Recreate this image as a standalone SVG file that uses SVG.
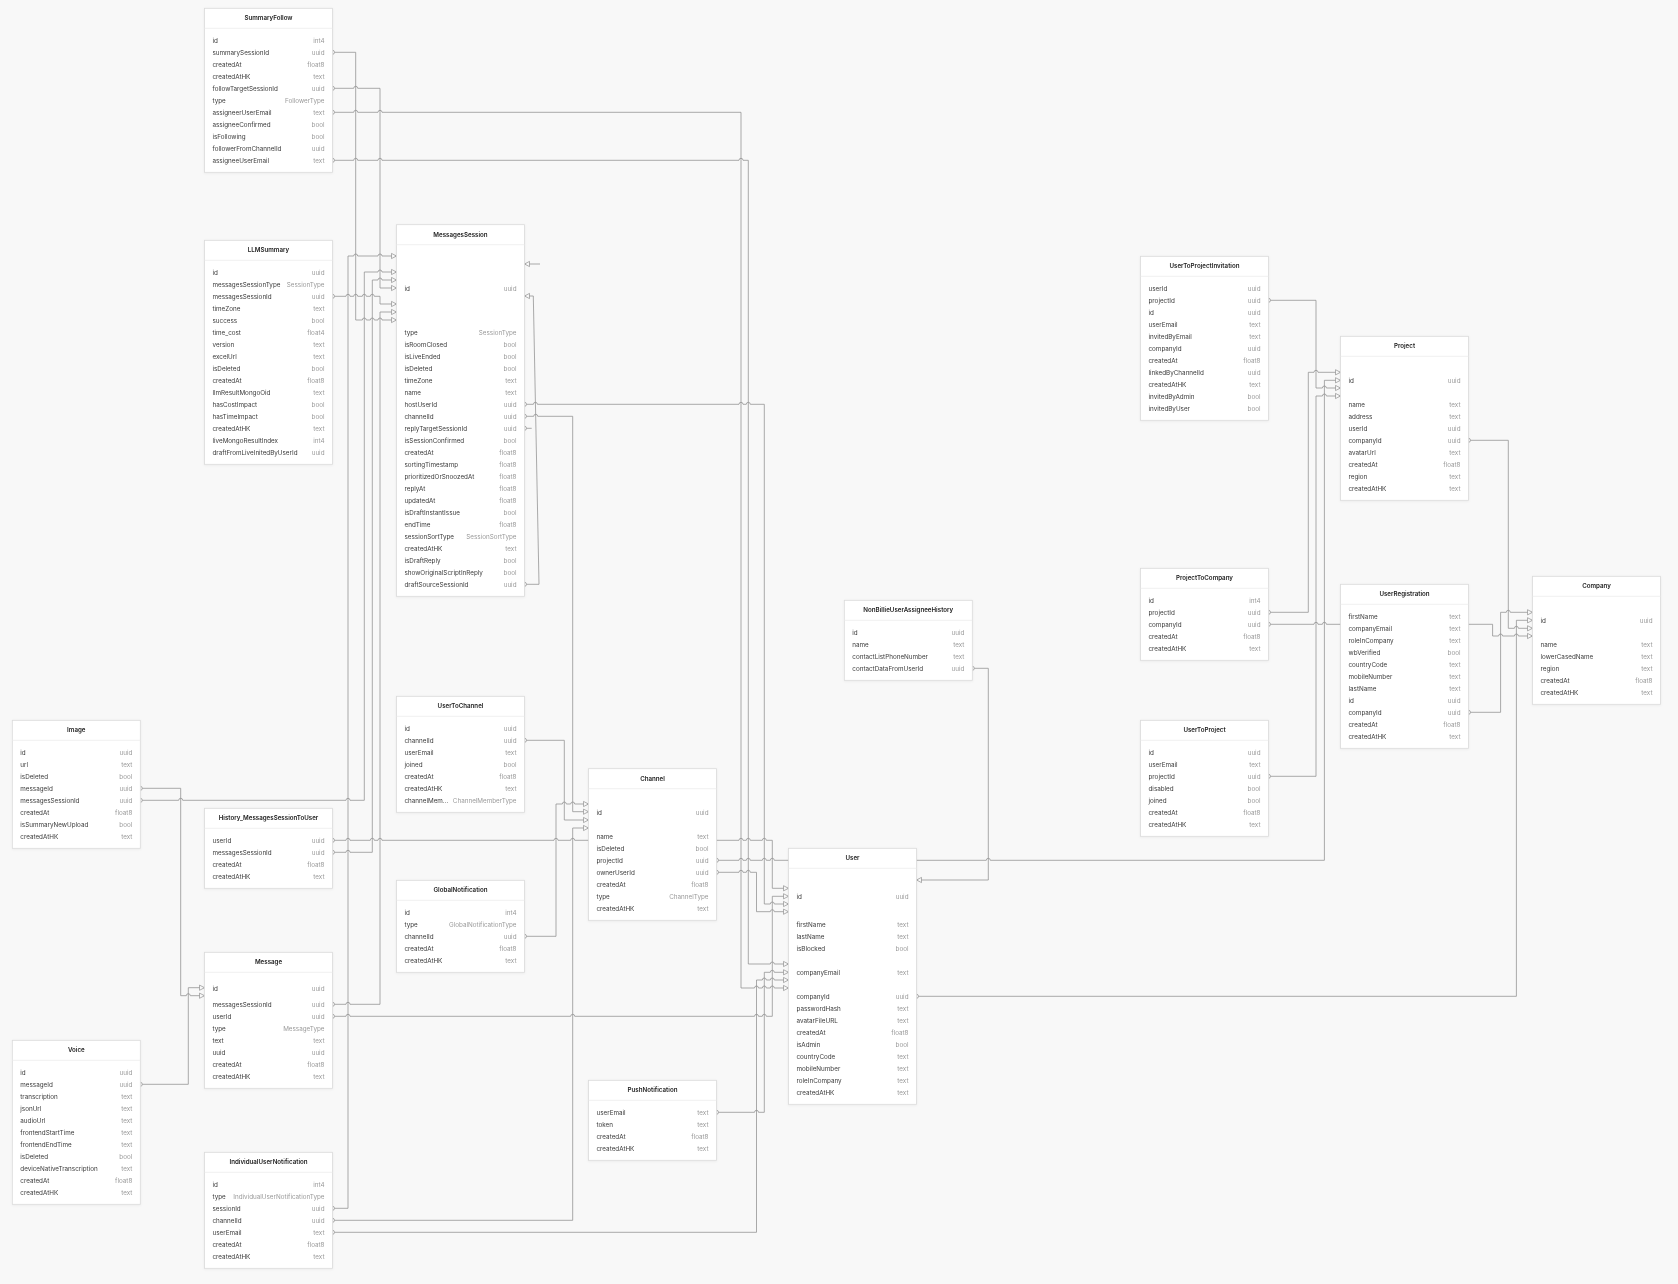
<svg xmlns="http://www.w3.org/2000/svg" width="1678" height="1284" viewBox="0 0 1678 1284">
<style>
.bg{fill:#f8f8f8}
.box{fill:#fff;stroke:#dadada;stroke-width:.8}
.sep{stroke:#ececec;stroke-width:.8}
text{font-family:Inter,"Liberation Sans",Arial,sans-serif;font-size:6.3px}
.t{font-weight:600;font-size:6.2px;fill:#222;text-anchor:middle}
.l{fill:#3a3a3a}
.y{fill:#9a9a9a;text-anchor:end}
.c{fill:none;stroke:#8f8f8f;stroke-width:.75}
.s{marker-start:url(#src)}
.a{marker-end:url(#arr)}
</style>
<defs>
<marker id="arr" viewBox="-6 -4 7 8" refX="0" refY="0" markerWidth="7" markerHeight="8" markerUnits="userSpaceOnUse" orient="auto"><path d="M-5,-2.6 L0,0 L-5,2.6 Z" fill="#f8f8f8" stroke="#8f8f8f" stroke-width=".7"/></marker>
<marker id="src" viewBox="-1 -3 5 6" refX="2" refY="0" markerWidth="5" markerHeight="6" markerUnits="userSpaceOnUse" orient="auto"><path d="M0,-2 A2,2 0 0 1 0,2" fill="none" stroke="#8f8f8f" stroke-width=".7"/></marker>
<filter id="sh" x="-5%" y="-5%" width="110%" height="110%"><feDropShadow dx="0" dy="0.6" stdDeviation="0.8" flood-color="#000" flood-opacity="0.06"/></filter>
</defs>
<rect class="bg" x="0" y="0" width="1678" height="1284"/>

<g id="connectors">
<path class="c s a" d="M334.5,52.3 H355.7 V320 H362.3 a2,2 0 0 1 4,0 H370.3 a2,2 0 0 1 4,0 H378 a2,2 0 0 1 4,0 H396.5"/>
<path class="c s a" d="M334.5,88.3 H353.7 a2,2 0 0 1 4,0 H380 V288 H396.5"/>
<path class="c s a" d="M334.5,112.3 H353.7 a2,2 0 0 1 4,0 H378 a2,2 0 0 1 4,0 H741 V988 H754.5 a2,2 0 0 1 4,0 H762.3 a2,2 0 0 1 4,0 H770.3 a2,2 0 0 1 4,0 H788.5"/>
<path class="c s a" d="M334.5,160.3 H353.7 a2,2 0 0 1 4,0 H378 a2,2 0 0 1 4,0 H739 a2,2 0 0 1 4,0 H748.3 V964 H770.3 a2,2 0 0 1 4,0 H788.5"/>
<path class="c s a" d="M334.5,296.3 H346 a2,2 0 0 1 4,0 H353.7 a2,2 0 0 1 4,0 H362.3 a2,2 0 0 1 4,0 H370.3 a2,2 0 0 1 4,0 H380 V304 H396.5"/>
<path class="c s a" d="M334.5,852.3 H346 a2,2 0 0 1 4,0 H372.3 V280 H378 a2,2 0 0 1 4,0 H396.5"/>
<path class="c s a" d="M142.3,800.3 H178.7 a2,2 0 0 1 4,0 H346 a2,2 0 0 1 4,0 H364.3 V272 H378 a2,2 0 0 1 4,0 H396.5"/>
<path class="c s a" d="M334.5,1004.3 H346 a2,2 0 0 1 4,0 H380 V312 H396.5"/>
<path class="c s a" d="M334.5,1208.3 H348 V256 H353.7 a2,2 0 0 1 4,0 H378 a2,2 0 0 1 4,0 H396.5"/>
<path class="c s a" d="M526.5,584.3 H539 L533.3,296 H524.5"/>
<path class="c a" d="M540,264 H524.5"/>
<path class="c s" d="M526.5,428.3 H531.7"/>
<path class="c s a" d="M526.5,404.3 H533.4 a2,2 0 0 1 4,0 H739 a2,2 0 0 1 4,0 H746.3 a2,2 0 0 1 4,0 H764.3 V904 H770.3 a2,2 0 0 1 4,0 H788.5"/>
<path class="c s a" d="M526.5,416.3 H533.7 a2,2 0 0 1 4,0 H572.7 V811.7 H588.5"/>
<path class="c s a" d="M334.5,1220.3 H572.7 V828 H588.5"/>
<path class="c s a" d="M526.5,740.3 H564.3 V820 H588.5"/>
<path class="c s a" d="M526.5,936.3 H556 V804 H562.3 a2,2 0 0 1 4,0 H570.7 a2,2 0 0 1 4,0 H588.5"/>
<path class="c s a" d="M334.5,840.3 H346 a2,2 0 0 1 4,0 H370.3 a2,2 0 0 1 4,0 H378 a2,2 0 0 1 4,0 H554 a2,2 0 0 1 4,0 H570.7 a2,2 0 0 1 4,0 H739 a2,2 0 0 1 4,0 H746.3 a2,2 0 0 1 4,0 H762.3 a2,2 0 0 1 4,0 H772.3 V888.3 H788.5"/>
<path class="c s a" d="M142.3,788.3 H180.7 V995.7 H186.3 a2,2 0 0 1 4,0 H204.5"/>
<path class="c s a" d="M142.3,1084.3 H188.3 V987.7 H204.5"/>
<path class="c s a" d="M334.5,1016.3 H346 a2,2 0 0 1 4,0 H570.7 a2,2 0 0 1 4,0 H754.5 a2,2 0 0 1 4,0 H762.3 a2,2 0 0 1 4,0 H772.3 V896.3 H788.5"/>
<path class="c s a" d="M334.5,1232.3 H756.5 V980 H762.3 a2,2 0 0 1 4,0 H770.3 a2,2 0 0 1 4,0 H788.5"/>
<path class="c s a" d="M718.5,1112.3 H754.5 a2,2 0 0 1 4,0 H764.3 V972.3 H770.3 a2,2 0 0 1 4,0 H788.5"/>
<path class="c s a" d="M718.5,872.3 H739 a2,2 0 0 1 4,0 H746.3 a2,2 0 0 1 4,0 H756.5 V911.7 H770.3 a2,2 0 0 1 4,0 H788.5"/>
<path class="c s a" d="M718.5,860.3 H739 a2,2 0 0 1 4,0 H746.3 a2,2 0 0 1 4,0 H762.3 a2,2 0 0 1 4,0 H770.3 a2,2 0 0 1 4,0 H986.3 a2,2 0 0 1 4,0 H1324.4 V380.3 H1340.5"/>
<path class="c s a" d="M974.3,668.3 H988.3 V880 H916.5"/>
<path class="c s a" d="M918.5,996.3 H1516.4 V620.3 H1532.5"/>
<path class="c s a" d="M1470.5,440.3 H1508.3 V628.3 H1514.4 a2,2 0 0 1 4,0 H1532.5"/>
<path class="c s a" d="M1470.5,712.3 H1500.6 V612.3 H1506.3 a2,2 0 0 1 4,0 H1532.5"/>
<path class="c s a" d="M1270.5,624.3 H1314 a2,2 0 0 1 4,0 H1322.4 a2,2 0 0 1 4,0 H1492.6 V636 H1498.6 a2,2 0 0 1 4,0 H1514.4 a2,2 0 0 1 4,0 H1532.5"/>
<path class="c s a" d="M1270.5,300.3 H1316 V388 H1322.4 a2,2 0 0 1 4,0 H1340.5"/>
<path class="c s a" d="M1270.5,612.3 H1308.3 V372.3 H1314 a2,2 0 0 1 4,0 H1340.5"/>
<path class="c s a" d="M1270.5,776.3 H1316 V396 H1322.4 a2,2 0 0 1 4,0 H1340.5"/>
</g>

<g id="SummaryFollow" transform="translate(204.5,8.3)" filter="url(#sh)">
<rect class="box" width="128" height="164"/><line class="sep" x1="0" y1="20" x2="128" y2="20"/>
<text class="t" x="64" y="12.2">SummaryFollow</text>
<text class="l" x="8" y="34.3">id</text><text class="y" x="120" y="34.3">int4</text>
<text class="l" x="8" y="46.3">summarySessionId</text><text class="y" x="120" y="46.3">uuid</text>
<text class="l" x="8" y="58.3">createdAt</text><text class="y" x="120" y="58.3">float8</text>
<text class="l" x="8" y="70.3">createdAtHK</text><text class="y" x="120" y="70.3">text</text>
<text class="l" x="8" y="82.3">followTargetSessionId</text><text class="y" x="120" y="82.3">uuid</text>
<text class="l" x="8" y="94.3">type</text><text class="y" x="120" y="94.3">FollowerType</text>
<text class="l" x="8" y="106.3">assigneerUserEmail</text><text class="y" x="120" y="106.3">text</text>
<text class="l" x="8" y="118.3">assigneeConfirmed</text><text class="y" x="120" y="118.3">bool</text>
<text class="l" x="8" y="130.3">isFollowing</text><text class="y" x="120" y="130.3">bool</text>
<text class="l" x="8" y="142.3">followerFromChannelId</text><text class="y" x="120" y="142.3">uuid</text>
<text class="l" x="8" y="154.3">assigneeUserEmail</text><text class="y" x="120" y="154.3">text</text>
</g>

<g id="LLMSummary" transform="translate(204.5,240.3)" filter="url(#sh)">
<rect class="box" width="128" height="224"/><line class="sep" x1="0" y1="20" x2="128" y2="20"/>
<text class="t" x="64" y="12.2">LLMSummary</text>
<text class="l" x="8" y="34.3">id</text><text class="y" x="120" y="34.3">uuid</text>
<text class="l" x="8" y="46.3">messagesSessionType</text><text class="y" x="120" y="46.3">SessionType</text>
<text class="l" x="8" y="58.3">messagesSessionId</text><text class="y" x="120" y="58.3">uuid</text>
<text class="l" x="8" y="70.3">timeZone</text><text class="y" x="120" y="70.3">text</text>
<text class="l" x="8" y="82.3">success</text><text class="y" x="120" y="82.3">bool</text>
<text class="l" x="8" y="94.3">time_cost</text><text class="y" x="120" y="94.3">float4</text>
<text class="l" x="8" y="106.3">version</text><text class="y" x="120" y="106.3">text</text>
<text class="l" x="8" y="118.3">excelUrl</text><text class="y" x="120" y="118.3">text</text>
<text class="l" x="8" y="130.3">isDeleted</text><text class="y" x="120" y="130.3">bool</text>
<text class="l" x="8" y="142.3">createdAt</text><text class="y" x="120" y="142.3">float8</text>
<text class="l" x="8" y="154.3">llmResultMongoOid</text><text class="y" x="120" y="154.3">text</text>
<text class="l" x="8" y="166.3">hasCostImpact</text><text class="y" x="120" y="166.3">bool</text>
<text class="l" x="8" y="178.3">hasTimeImpact</text><text class="y" x="120" y="178.3">bool</text>
<text class="l" x="8" y="190.3">createdAtHK</text><text class="y" x="120" y="190.3">text</text>
<text class="l" x="8" y="202.3">liveMongoResultIndex</text><text class="y" x="120" y="202.3">int4</text>
<text class="l" x="8" y="214.3">draftFromLiveInitedByUserId</text><text class="y" x="120" y="214.3">uuid</text>
</g>

<g id="MessagesSession" transform="translate(396.5,224.7)" filter="url(#sh)">
<rect class="box" width="128" height="371.6"/><line class="sep" x1="0" y1="20" x2="128" y2="20"/>
<text class="t" x="64" y="12.2">MessagesSession</text>
<text class="l" x="8" y="65.9">id</text><text class="y" x="120" y="65.9">uuid</text>
<text class="l" x="8" y="109.9">type</text><text class="y" x="120" y="109.9">SessionType</text>
<text class="l" x="8" y="121.9">isRoomClosed</text><text class="y" x="120" y="121.9">bool</text>
<text class="l" x="8" y="133.9">isLiveEnded</text><text class="y" x="120" y="133.9">bool</text>
<text class="l" x="8" y="145.9">isDeleted</text><text class="y" x="120" y="145.9">bool</text>
<text class="l" x="8" y="157.9">timeZone</text><text class="y" x="120" y="157.9">text</text>
<text class="l" x="8" y="169.9">name</text><text class="y" x="120" y="169.9">text</text>
<text class="l" x="8" y="181.9">hostUserId</text><text class="y" x="120" y="181.9">uuid</text>
<text class="l" x="8" y="193.9">channelId</text><text class="y" x="120" y="193.9">uuid</text>
<text class="l" x="8" y="205.9">replyTargetSessionId</text><text class="y" x="120" y="205.9">uuid</text>
<text class="l" x="8" y="217.9">isSessionConfirmed</text><text class="y" x="120" y="217.9">bool</text>
<text class="l" x="8" y="229.9">createdAt</text><text class="y" x="120" y="229.9">float8</text>
<text class="l" x="8" y="241.9">sortingTimestamp</text><text class="y" x="120" y="241.9">float8</text>
<text class="l" x="8" y="253.9">prioritizedOrSnoozedAt</text><text class="y" x="120" y="253.9">float8</text>
<text class="l" x="8" y="265.9">replyAt</text><text class="y" x="120" y="265.9">float8</text>
<text class="l" x="8" y="277.9">updatedAt</text><text class="y" x="120" y="277.9">float8</text>
<text class="l" x="8" y="289.9">isDraftInstantIssue</text><text class="y" x="120" y="289.9">bool</text>
<text class="l" x="8" y="301.9">endTime</text><text class="y" x="120" y="301.9">float8</text>
<text class="l" x="8" y="313.9">sessionSortType</text><text class="y" x="120" y="313.9">SessionSortType</text>
<text class="l" x="8" y="325.9">createdAtHK</text><text class="y" x="120" y="325.9">text</text>
<text class="l" x="8" y="337.9">isDraftReply</text><text class="y" x="120" y="337.9">bool</text>
<text class="l" x="8" y="349.9">showOriginalScriptInReply</text><text class="y" x="120" y="349.9">bool</text>
<text class="l" x="8" y="361.9">draftSourceSessionId</text><text class="y" x="120" y="361.9">uuid</text>
</g>

<g id="Image" transform="translate(12.3,720.3)" filter="url(#sh)">
<rect class="box" width="128" height="128"/><line class="sep" x1="0" y1="20" x2="128" y2="20"/>
<text class="t" x="64" y="12.2">Image</text>
<text class="l" x="8" y="34.3">id</text><text class="y" x="120" y="34.3">uuid</text>
<text class="l" x="8" y="46.3">url</text><text class="y" x="120" y="46.3">text</text>
<text class="l" x="8" y="58.3">isDeleted</text><text class="y" x="120" y="58.3">bool</text>
<text class="l" x="8" y="70.3">messageId</text><text class="y" x="120" y="70.3">uuid</text>
<text class="l" x="8" y="82.3">messagesSessionId</text><text class="y" x="120" y="82.3">uuid</text>
<text class="l" x="8" y="94.3">createdAt</text><text class="y" x="120" y="94.3">float8</text>
<text class="l" x="8" y="106.3">isSummaryNewUpload</text><text class="y" x="120" y="106.3">bool</text>
<text class="l" x="8" y="118.3">createdAtHK</text><text class="y" x="120" y="118.3">text</text>
</g>

<g id="History_MessagesSessionToUser" transform="translate(204.5,808.3)" filter="url(#sh)">
<rect class="box" width="128" height="80"/><line class="sep" x1="0" y1="20" x2="128" y2="20"/>
<text class="t" x="64" y="12.2">History_MessagesSessionToUser</text>
<text class="l" x="8" y="34.3">userId</text><text class="y" x="120" y="34.3">uuid</text>
<text class="l" x="8" y="46.3">messagesSessionId</text><text class="y" x="120" y="46.3">uuid</text>
<text class="l" x="8" y="58.3">createdAt</text><text class="y" x="120" y="58.3">float8</text>
<text class="l" x="8" y="70.3">createdAtHK</text><text class="y" x="120" y="70.3">text</text>
</g>

<g id="Message" transform="translate(204.5,952.3)" filter="url(#sh)">
<rect class="box" width="128" height="136"/><line class="sep" x1="0" y1="20" x2="128" y2="20"/>
<text class="t" x="64" y="12.2">Message</text>
<text class="l" x="8" y="38.3">id</text><text class="y" x="120" y="38.3">uuid</text>
<text class="l" x="8" y="54.3">messagesSessionId</text><text class="y" x="120" y="54.3">uuid</text>
<text class="l" x="8" y="66.3">userId</text><text class="y" x="120" y="66.3">uuid</text>
<text class="l" x="8" y="78.3">type</text><text class="y" x="120" y="78.3">MessageType</text>
<text class="l" x="8" y="90.3">text</text><text class="y" x="120" y="90.3">text</text>
<text class="l" x="8" y="102.3">uuid</text><text class="y" x="120" y="102.3">uuid</text>
<text class="l" x="8" y="114.3">createdAt</text><text class="y" x="120" y="114.3">float8</text>
<text class="l" x="8" y="126.3">createdAtHK</text><text class="y" x="120" y="126.3">text</text>
</g>

<g id="Voice" transform="translate(12.3,1040.3)" filter="url(#sh)">
<rect class="box" width="128" height="164"/><line class="sep" x1="0" y1="20" x2="128" y2="20"/>
<text class="t" x="64" y="12.2">Voice</text>
<text class="l" x="8" y="34.3">id</text><text class="y" x="120" y="34.3">uuid</text>
<text class="l" x="8" y="46.3">messageId</text><text class="y" x="120" y="46.3">uuid</text>
<text class="l" x="8" y="58.3">transcription</text><text class="y" x="120" y="58.3">text</text>
<text class="l" x="8" y="70.3">jsonUrl</text><text class="y" x="120" y="70.3">text</text>
<text class="l" x="8" y="82.3">audioUrl</text><text class="y" x="120" y="82.3">text</text>
<text class="l" x="8" y="94.3">frontendStartTime</text><text class="y" x="120" y="94.3">text</text>
<text class="l" x="8" y="106.3">frontendEndTime</text><text class="y" x="120" y="106.3">text</text>
<text class="l" x="8" y="118.3">isDeleted</text><text class="y" x="120" y="118.3">bool</text>
<text class="l" x="8" y="130.3">deviceNativeTranscription</text><text class="y" x="120" y="130.3">text</text>
<text class="l" x="8" y="142.3">createdAt</text><text class="y" x="120" y="142.3">float8</text>
<text class="l" x="8" y="154.3">createdAtHK</text><text class="y" x="120" y="154.3">text</text>
</g>

<g id="IndividualUserNotification" transform="translate(204.5,1152.3)" filter="url(#sh)">
<rect class="box" width="128" height="116"/><line class="sep" x1="0" y1="20" x2="128" y2="20"/>
<text class="t" x="64" y="12.2">IndividualUserNotification</text>
<text class="l" x="8" y="34.3">id</text><text class="y" x="120" y="34.3">int4</text>
<text class="l" x="8" y="46.3">type</text><text class="y" x="120" y="46.3">IndividualUserNotificationType</text>
<text class="l" x="8" y="58.3">sessionId</text><text class="y" x="120" y="58.3">uuid</text>
<text class="l" x="8" y="70.3">channelId</text><text class="y" x="120" y="70.3">uuid</text>
<text class="l" x="8" y="82.3">userEmail</text><text class="y" x="120" y="82.3">text</text>
<text class="l" x="8" y="94.3">createdAt</text><text class="y" x="120" y="94.3">float8</text>
<text class="l" x="8" y="106.3">createdAtHK</text><text class="y" x="120" y="106.3">text</text>
</g>

<g id="UserToChannel" transform="translate(396.5,696.3)" filter="url(#sh)">
<rect class="box" width="128" height="116"/><line class="sep" x1="0" y1="20" x2="128" y2="20"/>
<text class="t" x="64" y="12.2">UserToChannel</text>
<text class="l" x="8" y="34.3">id</text><text class="y" x="120" y="34.3">uuid</text>
<text class="l" x="8" y="46.3">channelId</text><text class="y" x="120" y="46.3">uuid</text>
<text class="l" x="8" y="58.3">userEmail</text><text class="y" x="120" y="58.3">text</text>
<text class="l" x="8" y="70.3">joined</text><text class="y" x="120" y="70.3">bool</text>
<text class="l" x="8" y="82.3">createdAt</text><text class="y" x="120" y="82.3">float8</text>
<text class="l" x="8" y="94.3">createdAtHK</text><text class="y" x="120" y="94.3">text</text>
<text class="l" x="8" y="106.3">channelMem...</text><text class="y" x="120" y="106.3">ChannelMemberType</text>
</g>

<g id="GlobalNotification" transform="translate(396.5,880.3)" filter="url(#sh)">
<rect class="box" width="128" height="92"/><line class="sep" x1="0" y1="20" x2="128" y2="20"/>
<text class="t" x="64" y="12.2">GlobalNotification</text>
<text class="l" x="8" y="34.3">id</text><text class="y" x="120" y="34.3">int4</text>
<text class="l" x="8" y="46.3">type</text><text class="y" x="120" y="46.3">GlobalNotificationType</text>
<text class="l" x="8" y="58.3">channelId</text><text class="y" x="120" y="58.3">uuid</text>
<text class="l" x="8" y="70.3">createdAt</text><text class="y" x="120" y="70.3">float8</text>
<text class="l" x="8" y="82.3">createdAtHK</text><text class="y" x="120" y="82.3">text</text>
</g>

<g id="Channel" transform="translate(588.5,768.7)" filter="url(#sh)">
<rect class="box" width="128" height="151.6"/><line class="sep" x1="0" y1="20" x2="128" y2="20"/>
<text class="t" x="64" y="12.2">Channel</text>
<text class="l" x="8" y="45.9">id</text><text class="y" x="120" y="45.9">uuid</text>
<text class="l" x="8" y="69.9">name</text><text class="y" x="120" y="69.9">text</text>
<text class="l" x="8" y="81.9">isDeleted</text><text class="y" x="120" y="81.9">bool</text>
<text class="l" x="8" y="93.9">projectId</text><text class="y" x="120" y="93.9">uuid</text>
<text class="l" x="8" y="105.9">ownerUserId</text><text class="y" x="120" y="105.9">uuid</text>
<text class="l" x="8" y="117.9">createdAt</text><text class="y" x="120" y="117.9">float8</text>
<text class="l" x="8" y="129.9">type</text><text class="y" x="120" y="129.9">ChannelType</text>
<text class="l" x="8" y="141.9">createdAtHK</text><text class="y" x="120" y="141.9">text</text>
</g>

<g id="PushNotification" transform="translate(588.5,1080.3)" filter="url(#sh)">
<rect class="box" width="128" height="80"/><line class="sep" x1="0" y1="20" x2="128" y2="20"/>
<text class="t" x="64" y="12.2">PushNotification</text>
<text class="l" x="8" y="34.3">userEmail</text><text class="y" x="120" y="34.3">text</text>
<text class="l" x="8" y="46.3">token</text><text class="y" x="120" y="46.3">text</text>
<text class="l" x="8" y="58.3">createdAt</text><text class="y" x="120" y="58.3">float8</text>
<text class="l" x="8" y="70.3">createdAtHK</text><text class="y" x="120" y="70.3">text</text>
</g>

<g id="User" transform="translate(788.5,848.3)" filter="url(#sh)">
<rect class="box" width="128" height="256"/><line class="sep" x1="0" y1="20" x2="128" y2="20"/>
<text class="t" x="64" y="12.2">User</text>
<text class="l" x="8" y="50.3">id</text><text class="y" x="120" y="50.3">uuid</text>
<text class="l" x="8" y="78.3">firstName</text><text class="y" x="120" y="78.3">text</text>
<text class="l" x="8" y="90.3">lastName</text><text class="y" x="120" y="90.3">text</text>
<text class="l" x="8" y="102.3">isBlocked</text><text class="y" x="120" y="102.3">bool</text>
<text class="l" x="8" y="126.3">companyEmail</text><text class="y" x="120" y="126.3">text</text>
<text class="l" x="8" y="150.3">companyId</text><text class="y" x="120" y="150.3">uuid</text>
<text class="l" x="8" y="162.3">passwordHash</text><text class="y" x="120" y="162.3">text</text>
<text class="l" x="8" y="174.3">avatarFileURL</text><text class="y" x="120" y="174.3">text</text>
<text class="l" x="8" y="186.3">createdAt</text><text class="y" x="120" y="186.3">float8</text>
<text class="l" x="8" y="198.3">isAdmin</text><text class="y" x="120" y="198.3">bool</text>
<text class="l" x="8" y="210.3">countryCode</text><text class="y" x="120" y="210.3">text</text>
<text class="l" x="8" y="222.3">mobileNumber</text><text class="y" x="120" y="222.3">text</text>
<text class="l" x="8" y="234.3">roleInCompany</text><text class="y" x="120" y="234.3">text</text>
<text class="l" x="8" y="246.3">createdAtHK</text><text class="y" x="120" y="246.3">text</text>
</g>

<g id="NonBillieUserAssigneeHistory" transform="translate(844.3,600.3)" filter="url(#sh)">
<rect class="box" width="128" height="80"/><line class="sep" x1="0" y1="20" x2="128" y2="20"/>
<text class="t" x="64" y="12.2">NonBillieUserAssigneeHistory</text>
<text class="l" x="8" y="34.3">id</text><text class="y" x="120" y="34.3">uuid</text>
<text class="l" x="8" y="46.3">name</text><text class="y" x="120" y="46.3">text</text>
<text class="l" x="8" y="58.3">contactListPhoneNumber</text><text class="y" x="120" y="58.3">text</text>
<text class="l" x="8" y="70.3">contactDataFromUserId</text><text class="y" x="120" y="70.3">uuid</text>
</g>

<g id="UserToProjectInvitation" transform="translate(1140.5,256.3)" filter="url(#sh)">
<rect class="box" width="128" height="164"/><line class="sep" x1="0" y1="20" x2="128" y2="20"/>
<text class="t" x="64" y="12.2">UserToProjectInvitation</text>
<text class="l" x="8" y="34.3">userId</text><text class="y" x="120" y="34.3">uuid</text>
<text class="l" x="8" y="46.3">projectId</text><text class="y" x="120" y="46.3">uuid</text>
<text class="l" x="8" y="58.3">id</text><text class="y" x="120" y="58.3">uuid</text>
<text class="l" x="8" y="70.3">userEmail</text><text class="y" x="120" y="70.3">text</text>
<text class="l" x="8" y="82.3">invitedByEmail</text><text class="y" x="120" y="82.3">text</text>
<text class="l" x="8" y="94.3">companyId</text><text class="y" x="120" y="94.3">uuid</text>
<text class="l" x="8" y="106.3">createdAt</text><text class="y" x="120" y="106.3">float8</text>
<text class="l" x="8" y="118.3">linkedByChannelId</text><text class="y" x="120" y="118.3">uuid</text>
<text class="l" x="8" y="130.3">createdAtHK</text><text class="y" x="120" y="130.3">text</text>
<text class="l" x="8" y="142.3">invitedByAdmin</text><text class="y" x="120" y="142.3">bool</text>
<text class="l" x="8" y="154.3">invitedByUser</text><text class="y" x="120" y="154.3">bool</text>
</g>

<g id="Project" transform="translate(1340.5,336.3)" filter="url(#sh)">
<rect class="box" width="128" height="164"/><line class="sep" x1="0" y1="20" x2="128" y2="20"/>
<text class="t" x="64" y="12.2">Project</text>
<text class="l" x="8" y="46.3">id</text><text class="y" x="120" y="46.3">uuid</text>
<text class="l" x="8" y="70.3">name</text><text class="y" x="120" y="70.3">text</text>
<text class="l" x="8" y="82.3">address</text><text class="y" x="120" y="82.3">text</text>
<text class="l" x="8" y="94.3">userId</text><text class="y" x="120" y="94.3">uuid</text>
<text class="l" x="8" y="106.3">companyId</text><text class="y" x="120" y="106.3">uuid</text>
<text class="l" x="8" y="118.3">avatarUrl</text><text class="y" x="120" y="118.3">text</text>
<text class="l" x="8" y="130.3">createdAt</text><text class="y" x="120" y="130.3">float8</text>
<text class="l" x="8" y="142.3">region</text><text class="y" x="120" y="142.3">text</text>
<text class="l" x="8" y="154.3">createdAtHK</text><text class="y" x="120" y="154.3">text</text>
</g>

<g id="ProjectToCompany" transform="translate(1140.5,568.3)" filter="url(#sh)">
<rect class="box" width="128" height="92"/><line class="sep" x1="0" y1="20" x2="128" y2="20"/>
<text class="t" x="64" y="12.2">ProjectToCompany</text>
<text class="l" x="8" y="34.3">id</text><text class="y" x="120" y="34.3">int4</text>
<text class="l" x="8" y="46.3">projectId</text><text class="y" x="120" y="46.3">uuid</text>
<text class="l" x="8" y="58.3">companyId</text><text class="y" x="120" y="58.3">uuid</text>
<text class="l" x="8" y="70.3">createdAt</text><text class="y" x="120" y="70.3">float8</text>
<text class="l" x="8" y="82.3">createdAtHK</text><text class="y" x="120" y="82.3">text</text>
</g>

<g id="UserToProject" transform="translate(1140.5,720.3)" filter="url(#sh)">
<rect class="box" width="128" height="116"/><line class="sep" x1="0" y1="20" x2="128" y2="20"/>
<text class="t" x="64" y="12.2">UserToProject</text>
<text class="l" x="8" y="34.3">id</text><text class="y" x="120" y="34.3">uuid</text>
<text class="l" x="8" y="46.3">userEmail</text><text class="y" x="120" y="46.3">text</text>
<text class="l" x="8" y="58.3">projectId</text><text class="y" x="120" y="58.3">uuid</text>
<text class="l" x="8" y="70.3">disabled</text><text class="y" x="120" y="70.3">bool</text>
<text class="l" x="8" y="82.3">joined</text><text class="y" x="120" y="82.3">bool</text>
<text class="l" x="8" y="94.3">createdAt</text><text class="y" x="120" y="94.3">float8</text>
<text class="l" x="8" y="106.3">createdAtHK</text><text class="y" x="120" y="106.3">text</text>
</g>

<g id="UserRegistration" transform="translate(1340.5,584.3)" filter="url(#sh)">
<rect class="box" width="128" height="164"/><line class="sep" x1="0" y1="20" x2="128" y2="20"/>
<text class="t" x="64" y="12.2">UserRegistration</text>
<text class="l" x="8" y="34.3">firstName</text><text class="y" x="120" y="34.3">text</text>
<text class="l" x="8" y="46.3">companyEmail</text><text class="y" x="120" y="46.3">text</text>
<text class="l" x="8" y="58.3">roleInCompany</text><text class="y" x="120" y="58.3">text</text>
<text class="l" x="8" y="70.3">wbVerified</text><text class="y" x="120" y="70.3">bool</text>
<text class="l" x="8" y="82.3">countryCode</text><text class="y" x="120" y="82.3">text</text>
<text class="l" x="8" y="94.3">mobileNumber</text><text class="y" x="120" y="94.3">text</text>
<text class="l" x="8" y="106.3">lastName</text><text class="y" x="120" y="106.3">text</text>
<text class="l" x="8" y="118.3">id</text><text class="y" x="120" y="118.3">uuid</text>
<text class="l" x="8" y="130.3">companyId</text><text class="y" x="120" y="130.3">uuid</text>
<text class="l" x="8" y="142.3">createdAt</text><text class="y" x="120" y="142.3">float8</text>
<text class="l" x="8" y="154.3">createdAtHK</text><text class="y" x="120" y="154.3">text</text>
</g>

<g id="Company" transform="translate(1532.5,576.3)" filter="url(#sh)">
<rect class="box" width="128" height="128"/><line class="sep" x1="0" y1="20" x2="128" y2="20"/>
<text class="t" x="64" y="12.2">Company</text>
<text class="l" x="8" y="46.3">id</text><text class="y" x="120" y="46.3">uuid</text>
<text class="l" x="8" y="70.3">name</text><text class="y" x="120" y="70.3">text</text>
<text class="l" x="8" y="82.3">lowerCasedName</text><text class="y" x="120" y="82.3">text</text>
<text class="l" x="8" y="94.3">region</text><text class="y" x="120" y="94.3">text</text>
<text class="l" x="8" y="106.3">createdAt</text><text class="y" x="120" y="106.3">float8</text>
<text class="l" x="8" y="118.3">createdAtHK</text><text class="y" x="120" y="118.3">text</text>
</g>
</svg>
